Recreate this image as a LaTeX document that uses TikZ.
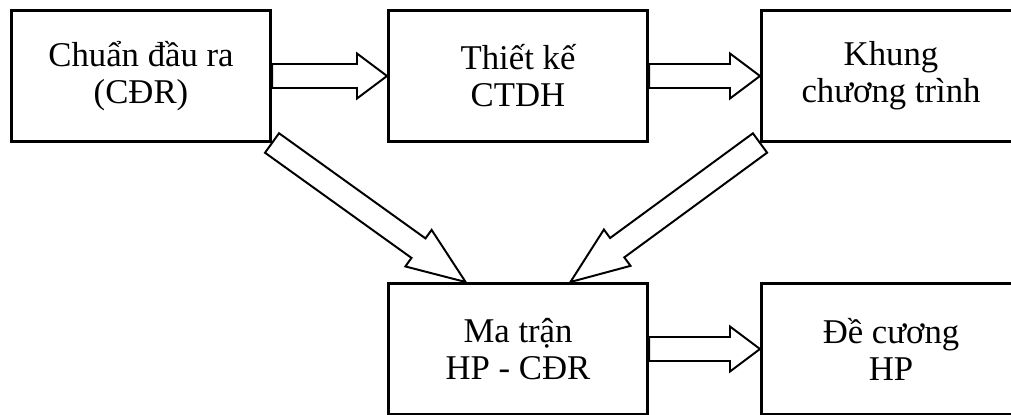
\documentclass[tikz,border=0pt]{standalone}
\usepackage{fontspec}
\setmainfont{Liberation Serif}
\usetikzlibrary{calc}

\tikzset{
  box/.style={draw, line width=2.1pt, anchor=north west, minimum width=6.475cm,
    minimum height=3.275cm, align=center, font=\fontsize{24.7}{26.3}\selectfont},
  arrowline/.style={draw, line width=1.4pt, fill=white, line join=miter}
}

% hollow block arrow: [head length]{tail}{tip}
\newcommand{\blockarrow}[3][0.75cm]{%
  \coordinate (hb) at ($(#3)!#1!(#2)$);
  \path[arrowline] ($(#2)!0.3cm!90:(#3)$) -- ($(hb)!0.3cm!90:(#3)$)
    -- ($(hb)!0.5625cm!90:(#3)$) -- (#3) -- ($(hb)!0.5625cm!-90:(#3)$)
    -- ($(hb)!0.3cm!-90:(#3)$) -- ($(#2)!0.3cm!-90:(#3)$) -- cycle;
}

\begin{document}
\begin{tikzpicture}[x=0.025cm, y=-0.025cm]
    \useasboundingbox (0,0) rectangle (1011,414);
    \node[box] (cdr) at (10,9) {Chuẩn đầu ra\\(CĐR)};
    \node[box] (tk) at (387,9) {Thiết kế\\CTDH};
    \node[box] (khung) at (760,9) {Khung\\chương trình};
    \node[box] (mt) at (387,282) {Ma trận\\HP - CĐR};
    \node[box] (dc) at (760,282) {Đề cương\\HP};
    \coordinate (mt1) at ($(mt.north west)!0.3!(mt.north east)$);
    \coordinate (mt2) at ($(mt.north west)!0.7!(mt.north east)$);
    \blockarrow{cdr.east}{tk.west}
    \blockarrow{tk.east}{khung.west}
    \blockarrow{mt.east}{dc.west}
    \blockarrow[1.45cm]{cdr.south east}{mt1}
    \blockarrow[1.45cm]{khung.south west}{mt2}
\end{tikzpicture}
\end{document}
